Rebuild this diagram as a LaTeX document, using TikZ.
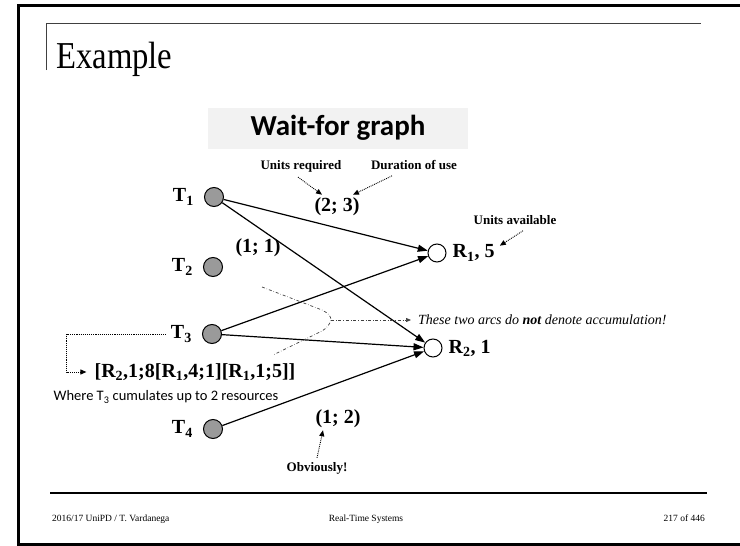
\documentclass[tikz,border=0pt]{standalone}
\usepackage{fontspec}
\setmainfont{Liberation Serif}
\newfontfamily\calibri{Carlito}
\newfontfamily\garamond[FakeStretch=0.86]{Liberation Serif}
\usetikzlibrary{arrows.meta,positioning,calc}
\definecolor{ink}{HTML}{000000}
\definecolor{boxgray}{HTML}{F2F2F2}
\definecolor{taskgray}{HTML}{9A9A9A}
\definecolor{rulegray}{HTML}{404040}

\begin{document}
\begin{tikzpicture}[x=1pt,y=-1pt,>={Triangle[length=10pt,width=7pt]},
  task/.style={circle,draw=ink,line width=1pt,fill=taskgray,minimum size=19pt,inner sep=0pt},
  res/.style={circle,draw=ink,line width=1pt,fill=white,minimum size=18pt,inner sep=0pt},
  lbl/.style={font=\fontsize{20}{23}\selectfont\bfseries,inner sep=0pt},
  note/.style={font=\fontsize{13}{15}\selectfont\bfseries,inner sep=0pt},
  arc/.style={->,line width=1.2pt},
  hint/.style={-{Triangle[length=6pt,width=5pt]},densely dotted,line width=0.9pt},
  brace/.style={dash dot,rulegray,line width=0.7pt}]
  \useasboundingbox (0,0) rectangle (740,546);
  % slide frame and title
  \draw[ink,line width=3pt] (745,5) -- (18,5) -- (18,544) -- (745,544);
  \draw[rulegray,line width=1pt] (46,70) -- (46,23) -- (701,23);
  \node[anchor=base west,inner sep=0pt,font=\garamond\fontsize{38}{42}\selectfont] (title) at (56,68) {Example};
  \node[fill=boxgray,font=\calibri\bfseries\fontsize{29}{32}\selectfont,minimum width=260pt,minimum height=41pt] (wfg) at (338,128) {Wait-for graph};
  % tasks and resources
  \node[task] (t1) at (214,197) {};
  \node[task] (t2) at (213,267) {};
  \node[task] (t3) at (212,334) {};
  \node[task] (t4) at (213,429) {};
  \node[lbl,left=10pt of t1] (t1l) {T\textsubscript{1}};
  \node[lbl,left=10pt of t2] (t2l) {T\textsubscript{2}};
  \node[lbl,left=10pt of t3] (t3l) {T\textsubscript{3}};
  \node[lbl,left=10pt of t4] (t4l) {T\textsubscript{4}};
  \node[res] (r1) at (437,253) {};
  \node[res] (r2) at (433,348) {};
  \node[lbl,right=6pt of r1] (r1l) {R\textsubscript{1}, 5};
  \node[lbl,right=6pt of r2] (r2l) {R\textsubscript{2}, 1};
  \draw[arc] (t1) -- (r1);
  \draw[arc] (t1) -- (r2);
  \draw[arc] (t3) -- (r1);
  \draw[arc] (t3) -- (r2);
  \draw[arc] (t4) -- (r2);
  % weights
  \node[lbl] (w23) at (337,207) {(2; 3)};
  \node[lbl] (w11) at (258,248) {(1; 1)};
  \node[lbl] (w12) at (338,419) {(1; 2)};
  % notes
  \node[note] (ureq) at (301,166) {Units required};
  \node[note] (dur) at (414,165) {Duration of use};
  \node[note] (uav) at (515,220) {Units available};
  \node[note] (obv) at (317,468) {Obviously!};
  \draw[hint] ([xshift=-3pt,yshift=-5pt]ureq.south) -- ([xshift=-15pt,yshift=3pt]w23.north);
  \draw[hint] ([xshift=-22pt,yshift=-6pt]dur.south) -- ([xshift=16pt,yshift=3pt]w23.north);
  \draw[hint] ([xshift=8pt,yshift=-6pt]uav.south) -- ([xshift=5pt,yshift=-1pt]r1l.north east);
  \draw[hint] ([yshift=4pt]obv.north) -- ([xshift=-15pt,yshift=-2pt]w12.south);
  % accumulation note
  \node[anchor=west,inner sep=0pt,font=\fontsize{14}{16}\selectfont\itshape] (accum) at (418,320) {These two arcs do \textbf{not} denote accumulation!};
  \coordinate (bv) at (331,320);
  \draw[brace] (262,287) -- (322,310) .. controls (328,313) and (331,316) .. (bv) .. controls (330,324) and (327,328) .. (322,331) -- (273,355);
  \draw[brace,-{Triangle[length=5pt,width=4pt]}] (bv) -- ([xshift=-7pt]accum.west);
  % T3 resource sequence
  \node[lbl] (seq) at (195,372) {[R\textsubscript{2},1;8[R\textsubscript{1},4;1][R\textsubscript{1},1;5]]};
  \node[inner sep=0pt,font=\calibri\fontsize{14.5}{17}\selectfont] (where) at (166,397) {Where T\textsubscript{3} cumulates up to 2 resources};
  \draw[hint,shorten <=5pt,shorten >=8pt] (t3l.west) -- ++(-104,0) |- (seq.west);
  % footer
  \draw[ink,line width=1.5pt] (50,493) -- (707,493);
  \node[anchor=base west,inner sep=0pt,font=\fontsize{9.5}{11}\selectfont] (foot1) at (52,521) {2016/17 UniPD / T. Vardanega};
  \node[anchor=base,inner sep=0pt,font=\fontsize{9.5}{11}\selectfont] (foot2) at (366,521) {Real-Time Systems};
  \node[anchor=base east,inner sep=0pt,font=\fontsize{9.5}{11}\selectfont] (foot3) at (705,521) {217 of 446};
\end{tikzpicture}
\end{document}
